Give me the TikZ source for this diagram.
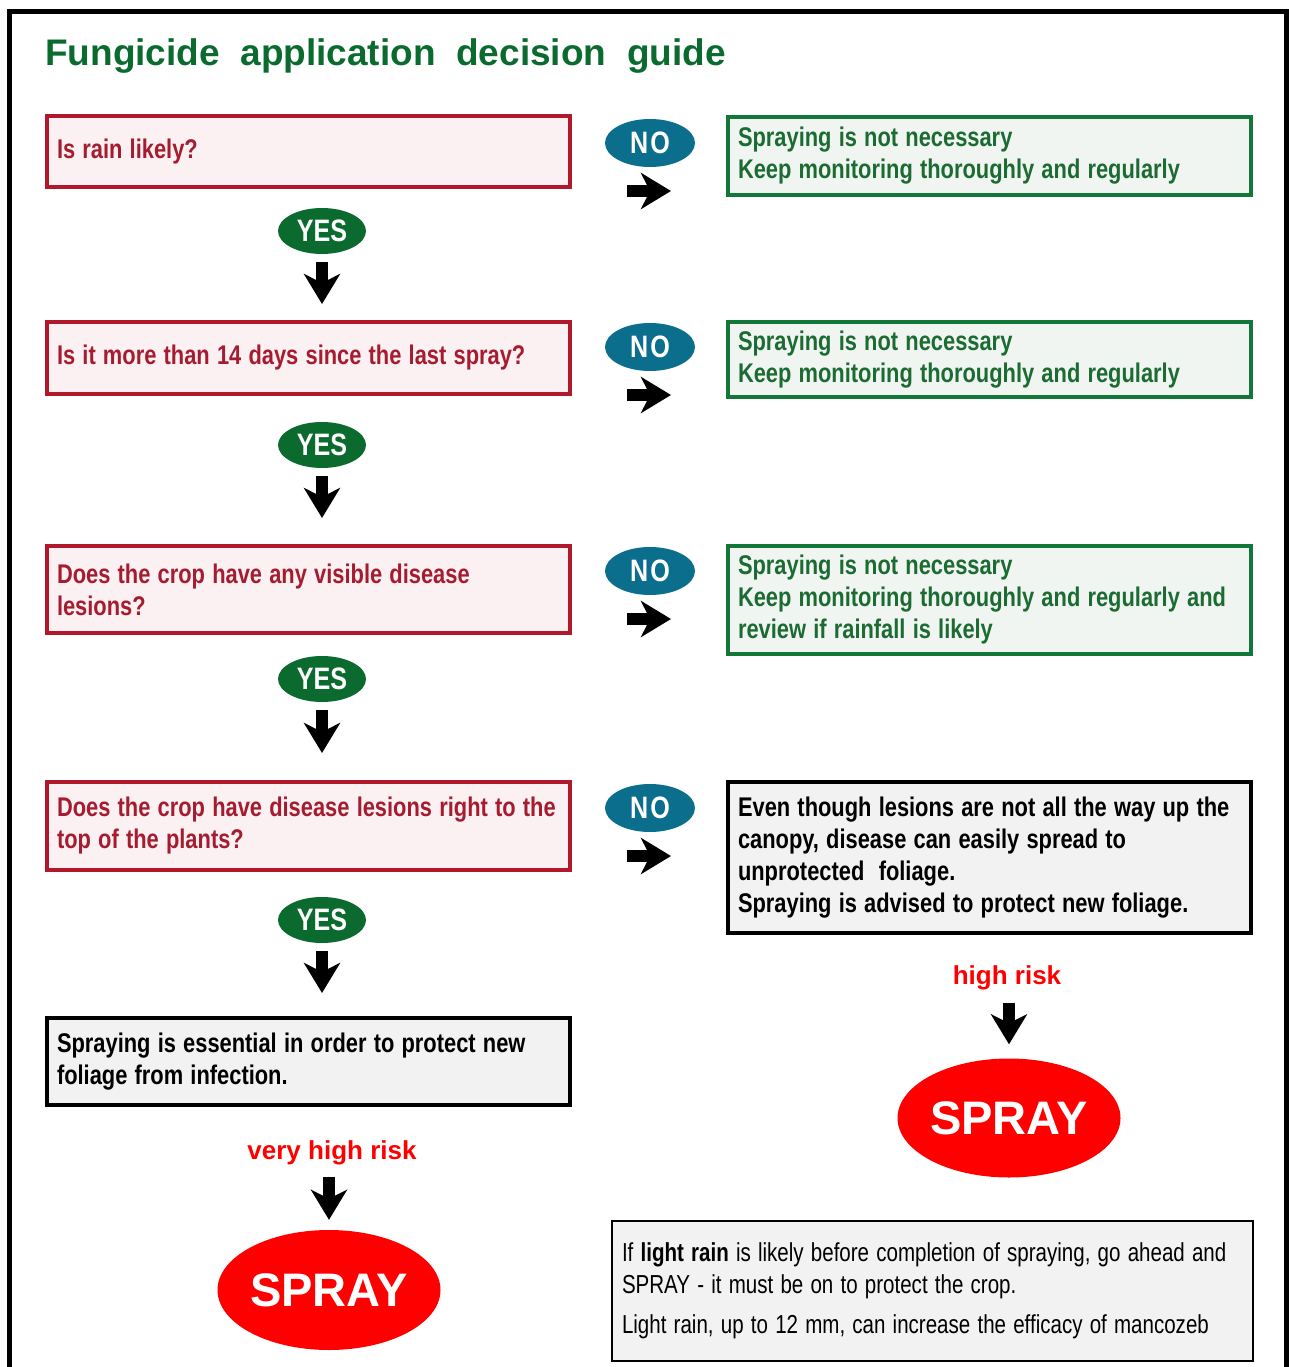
\documentclass[tikz,border=0pt]{standalone}
\usepackage{fontspec}
\setmainfont{Liberation Sans}
\newfontfamily\narrowFont{Liberation Sans}[FakeStretch=0.81]
\newfontfamily\noteFont{Liberation Sans}[FakeStretch=0.79]
\usetikzlibrary{shapes.geometric,arrows.meta}
\definecolor{questRed}{HTML}{B2182B}
\definecolor{questFill}{HTML}{FBF0F2}
\definecolor{questText}{HTML}{A51C30}
\definecolor{answerGreen}{HTML}{14773A}
\definecolor{answerFill}{HTML}{F0F5F2}
\definecolor{answerText}{HTML}{1B6B32}
\definecolor{yesGreen}{HTML}{0B6B2E}
\definecolor{noTeal}{HTML}{0B6E8C}
\definecolor{adviceGrey}{HTML}{F2F2F2}
\definecolor{sprayRed}{HTML}{FF0000}
\newcommand{\boxFont}[0]{\narrowFont\bfseries\fontsize{27}{32}\selectfont}
\newcommand{\noteTextFont}[0]{\noteFont\fontsize{26}{32}\selectfont}
\newcommand{\bubbleFont}[0]{\narrowFont\bfseries\fontsize{31}{32}\selectfont}
\newcommand{\boxWidth}[0]{523pt}
\newcommand{\boxTextWidth}[0]{503pt}

\begin{document}
\begin{tikzpicture}[x=1pt, y=-1pt]
  \tikzset{
    every node/.style={inner sep=0pt},
    question/.style={draw=questRed, line width=4pt, fill=questFill, text=questText,
      anchor=north west, minimum width=\boxWidth, text width=\boxTextWidth,
      inner xsep=10pt, align=left, font=\boxFont,
      execute at begin node={\spaceskip=7.2pt plus 1pt\relax}},
    answer/.style={question, draw=answerGreen, fill=answerFill, text=answerText},
    advice/.style={question, draw=black, fill=adviceGrey, text=black},
    yesBubble/.style={ellipse, fill=yesGreen, text=white, minimum width=88pt,
      minimum height=46pt, font=\bubbleFont},
    noBubble/.style={yesBubble, fill=noTeal, minimum width=90pt, minimum height=48pt},
    sprayBubble/.style={ellipse, fill=sprayRed, text=white, minimum width=223pt,
      minimum height=120pt, font=\bfseries\fontsize{47}{50}\selectfont},
    riskLabel/.style={text=sprayRed, anchor=base, font=\bfseries\fontsize{26}{30}\selectfont},
    blockArrow/.style={line width=12pt, -{Stealth[length=30pt, width=36pt, inset=9pt]}}
  }
  \useasboundingbox (0,0) rectangle (1289,1367);
  % outer frame, open at the foot of the page
  \draw[line width=5pt] (9,1367) -- (9,12) -- (1286,12) -- (1286,1367);
  \node[anchor=base west, text=yesGreen, font=\bfseries\fontsize{37}{40}\selectfont]
    (TITLE) at (45,66) {Fungicide\ \ application\ \ decision\ \ guide};

  % questions
  \node[question, minimum height=71pt] (Q-1) at (45,114) {Is rain likely?};
  \node[question, minimum height=72pt] (Q-2) at (45,320) {Is it more than 14 days since the last spray?};
  \node[question, minimum height=87pt] (Q-3) at (45,544) {Does the crop have any visible disease\\lesions?};
  \node[question, minimum height=88pt] (Q-4) at (45,780) {Does the crop have disease lesions right to the\\top of the plants?};
  \node[advice, minimum height=87pt] (FIN-1) at (45,1016) {Spraying is essential in order to protect new\\foliage from infection.};

  % answers
  \node[answer, minimum height=78pt] (ANS-1) at (726,115) {Spraying is not necessary\\Keep monitoring thoroughly and regularly};
  \node[answer, minimum height=75pt] (ANS-2) at (726,320) {Spraying is not necessary\\Keep monitoring thoroughly and regularly};
  \node[answer, minimum height=108pt] (ANS-3) at (726,544) {Spraying is not necessary\\Keep monitoring thoroughly and regularly and\\review if rainfall is likely};
  \node[advice, minimum height=151pt] (FIN-2) at (726,780) {Even though lesions are not all the way up the\\canopy, disease can easily spread to\\unprotected\ \ foliage.\\Spraying is advised to protect new foliage.};

  % yes / no
  \foreach \i/\y in {1/231, 2/445, 3/679, 4/920}
    \node[yesBubble] (YES-\i) at (322,\y) {YES};
  \foreach \i/\y in {1/143, 2/347, 3/571, 4/808}
    \node[noBubble] (NO-\i) at (650,\y) {N\kern2pt O};

  \foreach \from/\to/\gap in {YES-1/Q-2/16, YES-2/Q-3/26, YES-3/Q-4/27, YES-4/FIN-1/23}
    \draw[blockArrow, shorten <=8pt, shorten >=\gap pt] (\from) -- (\from |- \to.north);
  \foreach \i in {1,...,4}
    \draw[blockArrow] ([shift={(-23,48)}]NO-\i.center) -- ++(44,0);

  % risk and spray
  \node[riskLabel] (RISK-1) at (332,1159) {very high risk};
  \node[sprayBubble] (SPRAY-1) at (329,1290) {SPRAY};
  \node[riskLabel] (RISK-2) at (1007,984) {high risk};
  \node[sprayBubble, minimum height=119pt] (SPRAY-2) at (1009,1118) {SPRAY};
  \draw[blockArrow, shorten <=12pt, shorten >=10pt] (RISK-1.south -| SPRAY-1) -- (SPRAY-1.north);
  \draw[blockArrow, shorten <=13pt, shorten >=14pt] (RISK-2.south -| SPRAY-2) -- (SPRAY-2.north);

  % note on light rain
  \node[draw=black, line width=2pt, fill=adviceGrey, anchor=north west, minimum width=641pt,
    minimum height=140pt, text width=621pt, inner xsep=10pt, align=left,
    font=\noteTextFont, execute at begin node={\spaceskip=7.2pt plus 1pt\relax}] (NOTE) at (611,1220)
    {If \textbf{light rain} is likely before completion of spraying, go ahead and\\
     SPRAY - it must be on to protect the crop.\\[8pt]
     Light rain, up to 12 mm, can increase the efficacy of mancozeb};
\end{tikzpicture}
\end{document}
